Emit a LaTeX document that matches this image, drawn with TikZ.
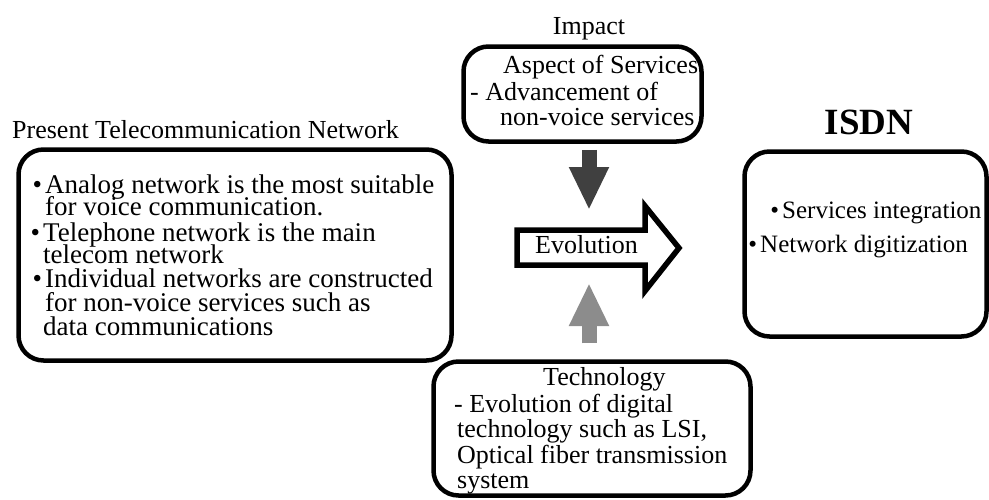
\documentclass[tikz,border=0pt]{standalone}
\usepackage{fontspec}
\setmainfont{Liberation Serif}
\usetikzlibrary{arrows.meta}
\newcommand\fsA{\fontsize{26}{30}\selectfont}
\newcommand\fsB{\fontsize{27}{31}\selectfont}
\newcommand\fsD{\fontsize{25}{29}\selectfont}
\newcommand\fsC{\fontsize{37}{40}\selectfont\bfseries}
\newcommand\bul{\llap{\textbullet\hspace{3pt}}}
\begin{document}
\begin{tikzpicture}[x=1pt,y=-1pt,
  box/.style={draw, line width=4.5pt, rounded corners=25pt, inner sep=0pt},
  txt/.style={anchor=base west, inner sep=0pt, font=\fsA},
  txtb/.style={anchor=base west, inner sep=0pt, font=\fsB},
  txtd/.style={anchor=base west, inner sep=0pt, font=\fsD},
  fat/.style={line width=15pt, -{Triangle[width=37pt,length=43pt]}},
]
\useasboundingbox (0,0) rectangle (989,499);

% boxes
\node[box, minimum width=433pt, minimum height=211pt] (net) at (235,255) {};
\node[box, minimum width=238pt, minimum height=95pt] (impact) at (582.5,94) {};
\node[box, minimum width=317pt, minimum height=134pt] (tech) at (592,428.5) {};
\node[box, minimum width=242pt, minimum height=185pt] (isdn) at (865.5,244) {};

% titles
\node[txt] (lblnet) at (12,138) {Present Telecommunication Network};
\node[txt, anchor=base] (lblimp) at (589,34) {Impact};
\node[txt, anchor=base, font=\fsC] (lblisdn) at (869,134) {ISDN};

% impact box text
\node[txt] (imp1) at (503,73) {Aspect of Services};
\node[txt] (imp2) at (470,100) {- Advancement of};
\node[txt] (imp3) at (500,125) {non-voice services};

% technology box text
\node[txt] (tec1) at (543,385) {Technology};
\node[txt] (tec2) at (454,412) {- Evolution of digital};
\node[txt] (tec3) at (457,437) {technology such as LSI,};
\node[txt] (tec4) at (457,463) {Optical fiber transmission};
\node[txt] (tec5) at (457,488) {system};

% ISDN box text
\node[txtd] (isd1) at (782,218) {\bul Services integration};
\node[txtd] (isd2) at (760,252) {\bul Network digitization};

% present network text
\node[txtb] (net1) at (45,193) {\bul Analog network is the most suitable};
\node[txtb] (net2) at (45,215) {for voice communication.};
\node[txtb] (net3) at (43,241) {\bul Telephone network is the main};
\node[txtb] (net4) at (43,263) {telecom network};
\node[txtb] (net5) at (45,287) {\bul Individual networks are constructed};
\node[txtb] (net6) at (45,311) {for non-voice services such as};
\node[txtb] (net7) at (43,335) {data communications};

% evolution arrow
\draw[line width=5.5pt, line join=miter] (517,230) -- (645,230) -- (645,206) -- (679,248) -- (645,291) -- (645,265) -- (517,265) -- cycle;
\node[txt] (evo) at (535,253) {Evolution};

% impact / technology arrows
\coordinate (ax) at (589,0);
\coordinate (dtip) at (589,210);
\coordinate (utip) at (589,283);
\draw[fat, black!75, shorten <=6pt] (impact.south -| ax) -- (dtip);
\draw[fat, black!45, shorten <=16pt] (tech.north -| ax) -- (utip);
\end{tikzpicture}
\end{document}
